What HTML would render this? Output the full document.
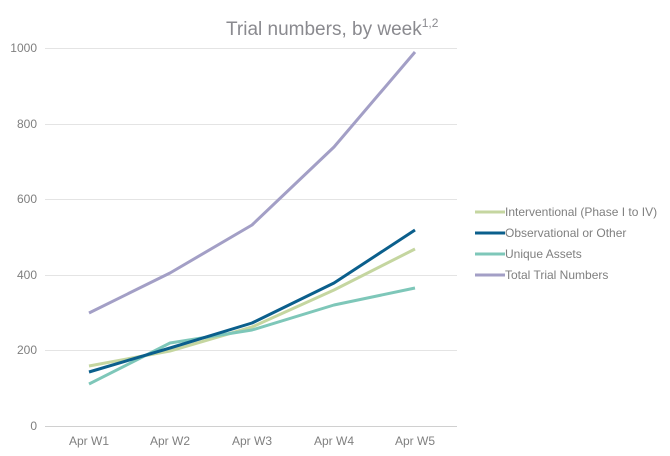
<!DOCTYPE html>
<html><head><meta charset="utf-8"><style>
html,body{margin:0;padding:0;background:#fff;}
svg{display:block;font-family:"Liberation Sans",sans-serif;}
</style></head><body>
<svg width="670" height="456" viewBox="0 0 670 456">
<text x="226" y="35" font-size="19" fill="#8a8a8f">Trial numbers, by week<tspan font-size="12" dy="-8">1,2</tspan></text>
<g stroke="#e4e4e4" stroke-width="1">
<line x1="45" y1="48.5" x2="457" y2="48.5"/>
<line x1="45" y1="124.5" x2="457" y2="124.5"/>
<line x1="45" y1="199.5" x2="457" y2="199.5"/>
<line x1="45" y1="275.5" x2="457" y2="275.5"/>
<line x1="45" y1="350.5" x2="457" y2="350.5"/>
</g>
<line x1="45" y1="426.5" x2="457" y2="426.5" stroke="#d0d0d0"/>
<g font-size="12" fill="#7f7f7f" text-anchor="end">
<text x="37" y="52">1000</text><text x="37" y="128">800</text><text x="37" y="203">600</text>
<text x="37" y="279">400</text><text x="37" y="354">200</text><text x="37" y="430">0</text>
</g>
<g font-size="12" fill="#7f7f7f" text-anchor="middle">
<text x="89" y="445">Apr W1</text><text x="170" y="445">Apr W2</text><text x="252" y="445">Apr W3</text>
<text x="334" y="445">Apr W4</text><text x="415" y="445">Apr W5</text>
</g>
<g fill="none" stroke-width="3" stroke-linejoin="round">
<polyline stroke="#a39fc6" points="89,313 170,273 252,225 334,147 415,52"/>
<polyline stroke="#c5d6a0" points="89,366 170,351 252,327 334,290 415,249"/>
<polyline stroke="#7ec7b9" points="89,384 170,343 252,330 334,305 415,288"/>
<polyline stroke="#0b5f8c" points="89,372 170,348 252,323 334,283 415,230"/>
</g>
<g stroke-width="3">
<line x1="475" y1="212" x2="505" y2="212" stroke="#c5d6a0"/>
<line x1="475" y1="233" x2="505" y2="233" stroke="#0b5f8c"/>
<line x1="475" y1="254" x2="505" y2="254" stroke="#7ec7b9"/>
<line x1="475" y1="275" x2="505" y2="275" stroke="#a39fc6"/>
</g>
<g font-size="12" fill="#7f7f7f">
<text x="505" y="216">Interventional (Phase I to IV)</text>
<text x="505" y="237">Observational or Other</text>
<text x="505" y="258">Unique Assets</text>
<text x="505" y="279">Total Trial Numbers</text>
</g>
</svg>
</body></html>
